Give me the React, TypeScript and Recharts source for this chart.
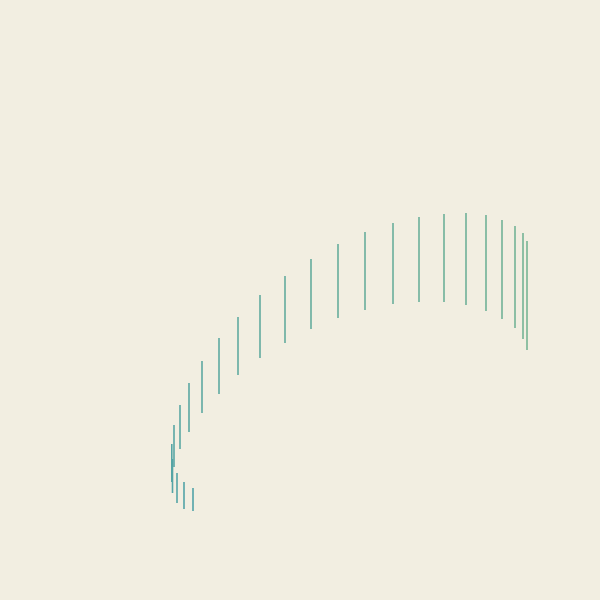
import React from 'react';
import { ScatterChart, Scatter, ErrorBar, XAxis, YAxis } from 'recharts';

// position of each segment along the curve, bottom-left start to right end
const xs = [
  -1.07, -1.16, -1.23, -1.275, -1.282, -1.26, -1.2, -1.11, -0.98, -0.81, -0.62, -0.4, -0.15,
  0.11, 0.38, 0.65, 0.93, 1.19, 1.44, 1.66, 1.86, 2.02, 2.15, 2.23, 2.27,
];
const highs = [
  -1.88, -1.82, -1.73, -1.59, -1.44, -1.25, -1.05, -0.83, -0.61, -0.38, -0.17, 0.05, 0.24,
  0.41, 0.56, 0.68, 0.77, 0.83, 0.86, 0.87, 0.85, 0.8, 0.74, 0.67, 0.59,
];
const lows = [
  -2.11, -2.09, -2.03, -1.93, -1.82, -1.67, -1.49, -1.32, -1.13, -0.94, -0.75, -0.58, -0.43,
  -0.29, -0.18, -0.1, -0.04, -0.02, -0.02, -0.05, -0.11, -0.19, -0.28, -0.39, -0.5,
];

const startColor = [80, 162, 168];
const endColor = [118, 180, 148];

function colorAt(t: number) {
  const c = startColor.map((s, i) => Math.round(s + (endColor[i] - s) * t));
  return `rgb(${c[0]}, ${c[1]}, ${c[2]})`;
}

const segments = xs.map((x, i) => ({
  x,
  mid: (highs[i] + lows[i]) / 2,
  err: (highs[i] - lows[i]) / 2,
}));

export default function App() {
  return (
    <div style={{ position: 'absolute', left: 0, top: 0, width: 600, height: 600, background: '#f2eee1' }}>
      <ScatterChart width={600} height={600} margin={{ top: 0, right: 0, bottom: 0, left: 0 }}>
        <XAxis type="number" dataKey="x" domain={[-3, 3]} hide />
        <YAxis type="number" dataKey="mid" domain={[-3, 3]} hide />
        {segments.map((seg, i) => (
          <Scatter
            key={i}
            data={[seg]}
            fill="transparent"
            shape={() => <g />}
            isAnimationActive={false}
          >
            <ErrorBar
              dataKey="err"
              direction="y"
              width={0}
              stroke={colorAt(i / (segments.length - 1))}
              strokeWidth={1.6}
              isAnimationActive={false}
            />
          </Scatter>
        ))}
      </ScatterChart>
    </div>
  );
}
